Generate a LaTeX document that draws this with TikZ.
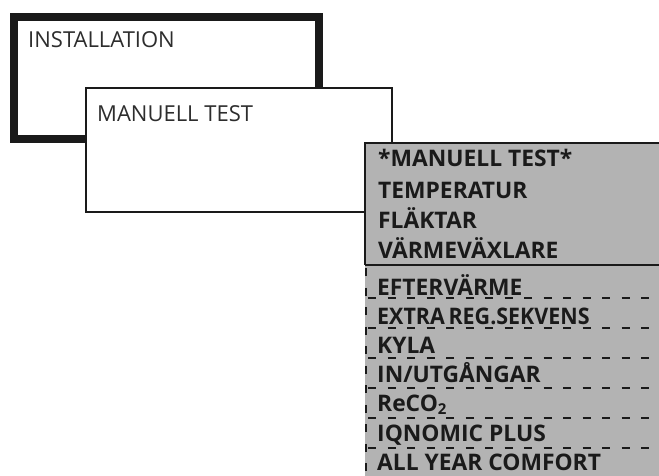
\documentclass[tikz,border=0pt]{standalone}
\usepackage{fontspec}
\setmainfont{Open Sans}
\definecolor{panelgrey}{RGB}{179,179,179}
\definecolor{ink}{RGB}{26,26,26}
\definecolor{labelink}{RGB}{45,45,45}
\begin{document}
\begin{tikzpicture}[x=1pt,y=-1pt,
  lbl/.style={anchor=base west,inner sep=0pt,text=labelink,font=\fontsize{22}{24}\selectfont},
  item/.style={anchor=base west,inner sep=0pt,text=ink,font=\fontsize{22.8}{24}\selectfont\bfseries},
  dashline/.style={draw=ink,line width=2pt,dash pattern=on 8pt off 11.5pt}]
\useasboundingbox (0,0) rectangle (659,476);
\begin{scope}
\clip (0,0) rectangle (659,476);
% INSTALLATION box
\draw[line width=8pt,draw=ink] (14,17) rectangle (319,139);
\node[lbl] (inst) at (28,48) {INSTALLATION};
% MANUELL TEST box
\draw[line width=1.3pt,draw=ink,fill=white] (86,88) rectangle (392,212);
\node[lbl] (mt) at (97,122) {MANUELL TEST};
% grey panel
\fill[panelgrey] (365,143) rectangle (665,480);
\draw[line width=2pt,draw=ink] (665,143) -- (365,143) -- (365,265);
\draw[line width=2pt,draw=ink] (365,265) -- (665,265);
\draw[dashline] (366,268) -- (366,480);
\foreach \yy in {298,328,358,388,418,448}
  \draw[dashline] (368,\yy) -- (665,\yy);
\node[item] (h) at (378,167) {*MANUELL TEST*};
\node[item] (t1) at (378,199) {TEMPERATUR};
\node[item] (t2) at (378,229) {FLÄKTAR};
\node[item] (t3) at (378,258) {VÄRMEVÄXLARE};
\node[item] (d1) at (377,295) {EFTERVÄRME};
\node[item] (d2) at (377,324.2) {\scalebox{0.94}[1]{EXTRA\hspace{4pt}REG.SEKVENS}};
\node[item] (d3) at (377,353.4) {KYLA};
\node[item] (d4) at (377,382.6) {IN/UTGÅNGAR};
\node[item] (d5) at (377,411.8) {ReCO\raisebox{-0.1em}{\fontsize{15}{15}\selectfont 2}};
\node[item] (d6) at (377,441) {IQNOMIC PLUS};
\node[item] (d7) at (377,470.2) {ALL YEAR COMFORT};
\end{scope}
\end{tikzpicture}
\end{document}
